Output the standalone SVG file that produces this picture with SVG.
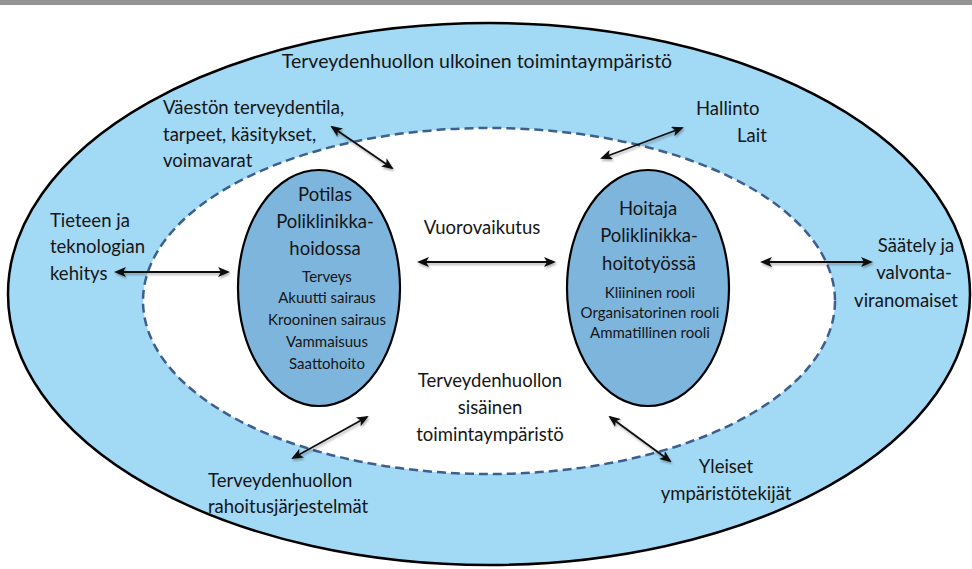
<svg xmlns="http://www.w3.org/2000/svg" width="972" height="569" viewBox="0 0 972 569">
<defs>
<style>
text{font-family:Lato,"Open Sans","Liberation Sans",sans-serif;fill:#161616}
.l{font-size:18.5px}
.t{font-size:19.5px}
.s{font-size:15px}
.m{text-anchor:middle}
.arr{stroke:#111;stroke-width:1.8;fill:none;marker-start:url(#ah);marker-end:url(#ah)}
</style>
<marker id="ah" viewBox="0 0 12 10" refX="10" refY="5" markerWidth="12" markerHeight="10" markerUnits="userSpaceOnUse" orient="auto-start-reverse">
<path d="M0,0 L12,5 L0,10 L3,5 Z" fill="#111"/>
</marker>
<filter id="sh" x="-10%" y="-50%" width="120%" height="200%">
<feDropShadow dx="1" dy="2" stdDeviation="1.2" flood-color="#000" flood-opacity="0.3"/>
</filter>
</defs>
<rect x="0" y="0" width="972" height="5" fill="#949494"/>
<g id="outer">
<ellipse cx="489" cy="294" rx="481" ry="271" fill="#A2D9F5" stroke="#000" stroke-width="2.5"/>
<text class="t m" x="477" y="68">Terveydenhuollon ulkoinen toimintaympäristö</text>
</g>
<g id="inner">
<ellipse cx="489" cy="301" rx="346" ry="173" fill="#fff" stroke="#3C5F8E" stroke-width="2.5" stroke-dasharray="9,5"/>
<text class="l m" x="490" y="387">Terveydenhuollon</text>
<text class="l m" x="490" y="414">sisäinen</text>
<text class="l m" x="490" y="441">toimintaympäristö</text>
</g>
<g id="potilas">
<ellipse cx="319" cy="288" rx="81" ry="118" fill="#7DB5DD" stroke="#000" stroke-width="2.2"/>
<text class="l m" x="325" y="201">Potilas</text>
<text class="l m" x="325" y="228">Poliklinikka-</text>
<text class="l m" x="325" y="255">hoidossa</text>
<text class="s m" x="327" y="282">Terveys</text>
<text class="s m" x="327" y="303">Akuutti sairaus</text>
<text class="s m" x="327" y="325">Krooninen sairaus</text>
<text class="s m" x="327" y="347">Vammaisuus</text>
<text class="s m" x="327" y="369">Saattohoito</text>
</g>
<g id="hoitaja">
<ellipse cx="648" cy="288" rx="81" ry="118" fill="#7DB5DD" stroke="#000" stroke-width="2.2"/>
<text class="l m" x="648" y="215">Hoitaja</text>
<text class="l m" x="649" y="242">Poliklinikka-</text>
<text class="l m" x="649" y="270">hoitotyössä</text>
<text class="s m" x="650" y="298">Kliininen rooli</text>
<text class="s m" x="650" y="318">Organisatorinen rooli</text>
<text class="s m" x="650" y="338">Ammatillinen rooli</text>
</g>
<g id="vaesto">
<text class="l" x="163" y="114">Väestön terveydentila,</text>
<text class="l" x="163" y="141">tarpeet, käsitykset,</text>
<text class="l" x="163" y="167">voimavarat</text>
</g>
<g id="hallinto">
<text class="l" x="696" y="115">Hallinto</text>
<text class="l" x="737" y="142">Lait</text>
</g>
<g id="tiede">
<text class="l" x="50" y="227">Tieteen ja</text>
<text class="l" x="50" y="253">teknologian</text>
<text class="l" x="50" y="280">kehitys</text>
</g>
<g id="saately">
<text class="l m" x="916" y="252">Säätely ja</text>
<text class="l m" x="914" y="279">valvonta-</text>
<text class="l m" x="906" y="307">viranomaiset</text>
</g>
<g id="rahoitus">
<text class="l" x="208" y="487">Terveydenhuollon</text>
<text class="l" x="208" y="513">rahoitusjärjestelmät</text>
</g>
<g id="yleiset">
<text class="l m" x="726" y="473">Yleiset</text>
<text class="l m" x="726" y="500">ympäristötekijät</text>
</g>
<g id="vuoro">
<text class="l m" x="482" y="234">Vuorovaikutus</text>
</g>
<g id="connectors" filter="url(#sh)">
<line class="arr" x1="116" y1="272" x2="228" y2="272"/>
<line class="arr" x1="762" y1="262" x2="871" y2="262"/>
<line class="arr" x1="419" y1="262" x2="554" y2="262"/>
<line class="arr" x1="332" y1="127" x2="392" y2="168"/>
<line class="arr" x1="602" y1="158" x2="682" y2="128"/>
<line class="arr" x1="293" y1="458" x2="367" y2="417"/>
<line class="arr" x1="610" y1="417" x2="670" y2="461"/>
</g>
</svg>
